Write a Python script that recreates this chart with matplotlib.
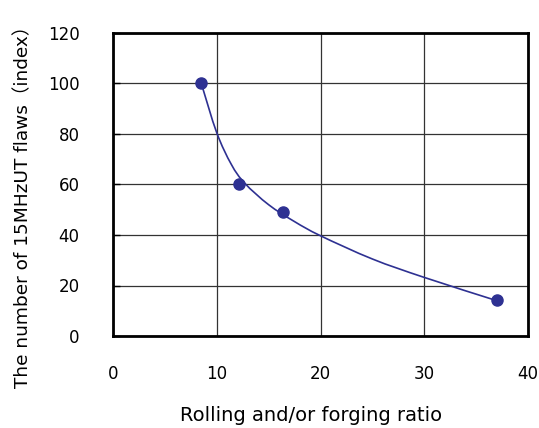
import matplotlib
matplotlib.use("Agg")
import matplotlib.pyplot as plt
from matplotlib.path import Path
from matplotlib.patches import PathPatch

plt.rcParams['font.family'] = ['DejaVu Sans', 'Noto Sans CJK JP']

# measured points
ratio = [8.5, 12.1, 16.4, 37.0]
flaws = [100, 60, 49, 14.3]

# trend curve
curve_x = [8.55, 10.0, 11.4, 12.7, 15.0, 17.5, 20.0, 25.0, 30.0, 36.6]
curve_y = [99.5, 80.5, 68.0, 60.5, 52.0, 45.3, 39.7, 30.5, 23.2, 14.5]

xticks = [0, 10, 20, 30, 40]
yticks = [0, 20, 40, 60, 80, 100, 120]

color = '#2E3192'

fig = plt.figure(figsize=(5.39, 4.28), dpi=100)
ax = fig.add_axes([113/539, 1-336/428, (528-113)/539, (336-33)/428])

# smooth line through the read curve points (Catmull-Rom as cubic Bezier path)
pts = list(zip(curve_x, curve_y))
verts = [pts[0]]
codes = [Path.MOVETO]
n = len(pts)
for i in range(n - 1):
    p0 = pts[i - 1] if i > 0 else pts[i]
    p1 = pts[i]
    p2 = pts[i + 1]
    p3 = pts[i + 2] if i + 2 < n else pts[i + 1]
    c1 = (p1[0] + (p2[0] - p0[0]) / 6, p1[1] + (p2[1] - p0[1]) / 6)
    c2 = (p2[0] - (p3[0] - p1[0]) / 6, p2[1] - (p3[1] - p1[1]) / 6)
    verts += [c1, c2, p2]
    codes += [Path.CURVE4] * 3
ax.add_patch(PathPatch(Path(verts, codes), fill=False, edgecolor=color, lw=1.2, zorder=3))
ax.plot(ratio, flaws, 'o', color=color, ms=8, zorder=4)

ax.set_xlim(0, 40)
ax.set_ylim(0, 120)
ax.set_xticks(xticks)
ax.set_yticks(yticks)
ax.grid(True, color='#333333', lw=0.9)
ax.set_axisbelow(True)
for s in ax.spines.values():
    s.set_linewidth(2.0)
    s.set_color('black')
ax.tick_params(axis='y', direction='in', length=5, width=1, pad=24, labelsize=12)
ax.tick_params(axis='x', direction='in', length=0, width=1, pad=21, labelsize=12)

ax.set_xlabel('Rolling and/or forging ratio', fontsize=14)
ax.set_ylabel('The number of 15MHzUT flaws（index）', fontsize=13.3)
ax.xaxis.set_label_coords(0.477, -0.232)
ax.yaxis.set_label_coords(-0.195, 0.442)

fig.savefig('out.png', dpi=100, facecolor='white')
